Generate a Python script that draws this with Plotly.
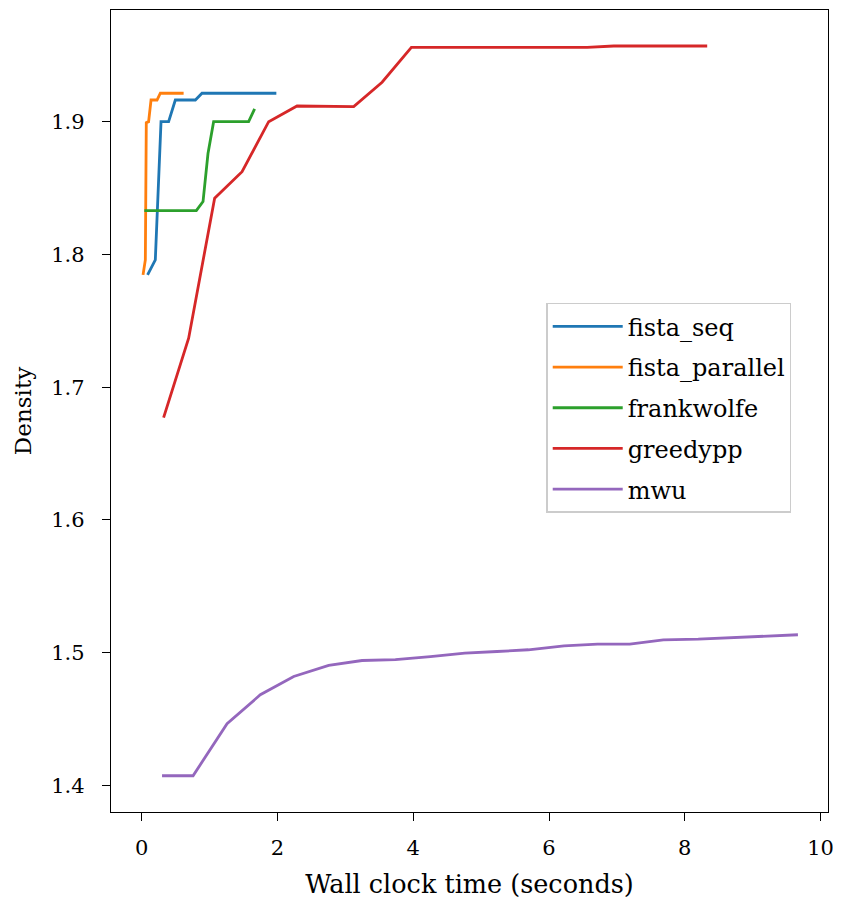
import plotly.graph_objects as go

# fista_seq
fista_seq_t = [0.085, 0.199, 0.283, 0.395, 0.494, 0.789, 0.887, 1.982]
fista_seq_d = [1.7846, 1.7959, 1.9000, 1.9000, 1.9163, 1.9163, 1.9214, 1.9214]

# fista_parallel
fista_par_t = [0.018, 0.052, 0.066, 0.100, 0.136, 0.224, 0.273, 0.616]
fista_par_d = [1.7846, 1.7959, 1.8993, 1.9000, 1.9163, 1.9163, 1.9214, 1.9214]

# frankwolfe
fw_t = [0.037, 0.803, 0.902, 0.975, 1.058, 1.574, 1.662]
fw_d = [1.8330, 1.8330, 1.8398, 1.8760, 1.9000, 1.9000, 1.9096]

# greedypp
gpp_t = [0.321, 0.690, 1.073, 1.477, 1.869, 2.287, 3.122, 3.540, 3.972, 6.561, 6.953, 8.330]
gpp_d = [1.6771, 1.7369, 1.8423, 1.8623, 1.9000, 1.9118, 1.9113, 1.9297, 1.9560, 1.9560, 1.9570, 1.9570]

# mwu
mwu_t = [0.298, 0.755, 1.256, 1.746, 2.238, 2.753, 3.245, 3.736, 4.252, 4.759, 5.234,
         5.695, 6.221, 6.715, 7.189, 7.684, 8.198, 8.659, 9.187, 9.667]
mwu_d = [1.4073, 1.4073, 1.4465, 1.4683, 1.4821, 1.4904, 1.4941, 1.4947, 1.4971, 1.4997, 1.5009,
         1.5022, 1.5052, 1.5065, 1.5065, 1.5097, 1.5102, 1.5112, 1.5120, 1.5135]

x_ticks = [0, 2, 4, 6, 8, 10]
y_ticks = [1.4, 1.5, 1.6, 1.7, 1.8, 1.9]

series = [
    ("fista_seq", fista_seq_t, fista_seq_d, "#1f77b4"),
    ("fista_parallel", fista_par_t, fista_par_d, "#ff7f0e"),
    ("frankwolfe", fw_t, fw_d, "#2ca02c"),
    ("greedypp", gpp_t, gpp_d, "#d62728"),
    ("mwu", mwu_t, mwu_d, "#9467bd"),
]

FONT = "DejaVu Serif"

fig = go.Figure()
for name, t, d, c in series:
    fig.add_trace(go.Scatter(x=t, y=d, mode="lines", name=name, legendgroup=name,
                             line=dict(color=c, width=2.8)))

axis_common = dict(showline=True, linecolor="black", linewidth=1.3, mirror=True,
                   ticks="outside", ticklen=8, tickwidth=1.3, tickcolor="black",
                   showgrid=False, zeroline=False,
                   tickfont=dict(family=FONT, size=21, color="black"))

fig.update_xaxes(range=[-0.454, 10.11], tickvals=x_ticks, ticktext=[str(v) for v in x_ticks],
                 ticklabelstandoff=9,
                 title=dict(text="Wall clock time (seconds)", font=dict(family=FONT, size=25.5, color="black"), standoff=15),
                 **axis_common)
fig.update_yaxes(range=[1.380, 1.9841], tickvals=y_ticks, ticktext=[f"{v:.1f}" for v in y_ticks],
                 ticklabelstandoff=13,
                 title=dict(text="Density", font=dict(family=FONT, size=23, color="black"), standoff=13),
                 **axis_common)

fig.update_layout(
    width=833, height=894,
    margin=dict(l=103, r=13, t=2, b=90),
    plot_bgcolor="white", paper_bgcolor="white",
    font=dict(family=FONT, size=22, color="black"),
    legend=dict(x=0.607, y=0.635, xanchor="left", yanchor="top",
                bgcolor="white", bordercolor="#cccccc", borderwidth=1.5,
                tracegroupgap=6.5, traceorder="grouped", itemwidth=70,
                font=dict(family=FONT, size=24, color="black")),
)

fig.write_html("out.html")
